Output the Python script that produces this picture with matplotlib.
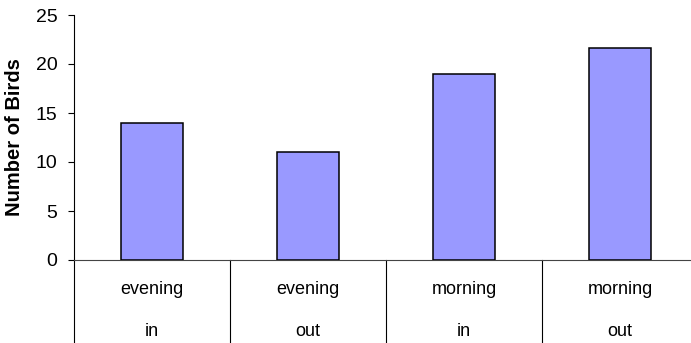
import matplotlib
matplotlib.use("Agg")
import matplotlib.pyplot as plt
from matplotlib.transforms import blended_transform_factory

plt.rcParams['font.family'] = ['Liberation Sans', 'DejaVu Sans']

# Bird counts per time-of-day / direction group
times = ["evening", "evening", "morning", "morning"]
directions = ["in", "out", "in", "out"]
counts = [14.0, 11.0, 19.0, 21.6]
y_ticks = [0, 5, 10, 15, 20, 25]

W, H = 691, 343
fig = plt.figure(figsize=(W / 100, H / 100), dpi=100)

# plot area in pixels: x from 74 to 698, zero line at y=260, top (25) at y=15
left, right, zero_y, top_y = 74, 698, 260, 15
ax = fig.add_axes([left / W, (H - zero_y) / H, (right - left) / W, (zero_y - top_y) / H])

x = list(range(len(counts)))
ax.bar(x, counts, width=0.4, color="#9999FF", edgecolor="black", linewidth=1.1, zorder=3)

ax.set_xlim(-0.5, len(counts) - 0.5)
ax.set_ylim(0, 25)
ax.set_yticks(y_ticks)
ax.set_yticklabels([str(v) for v in y_ticks], fontsize=14)
ax.tick_params(axis="y", direction="out", length=4.5, width=0.8, pad=7.5)
ax.set_xticks([])

for s in ["top", "right"]:
    ax.spines[s].set_visible(False)
ax.spines["left"].set_linewidth(0.8)
ax.spines["bottom"].set_linewidth(0.8)
ax.spines["bottom"].set_color("#444444")

ax.set_ylabel("Number of Birds", fontsize=14.5, fontweight="bold", labelpad=8)

# Two-row category labels with separators reaching the bottom of the figure
trans = blended_transform_factory(ax.transData, ax.transAxes)
below = -(H - zero_y) / (zero_y - top_y)
for i in range(len(counts) + 1):
    ax.plot([i - 0.5, i - 0.5], [0, below], transform=trans, color="black",
            linewidth=0.8, clip_on=False)

row1 = -(290 - zero_y) / (zero_y - top_y)
row2 = -(331 - zero_y) / (zero_y - top_y)
for i, (t, d) in enumerate(zip(times, directions)):
    ax.text(i, row1, t, transform=trans, ha="center", va="center", fontsize=13)
    ax.text(i, row2, d, transform=trans, ha="center", va="center", fontsize=13)

fig.savefig("out.png", dpi=100)
